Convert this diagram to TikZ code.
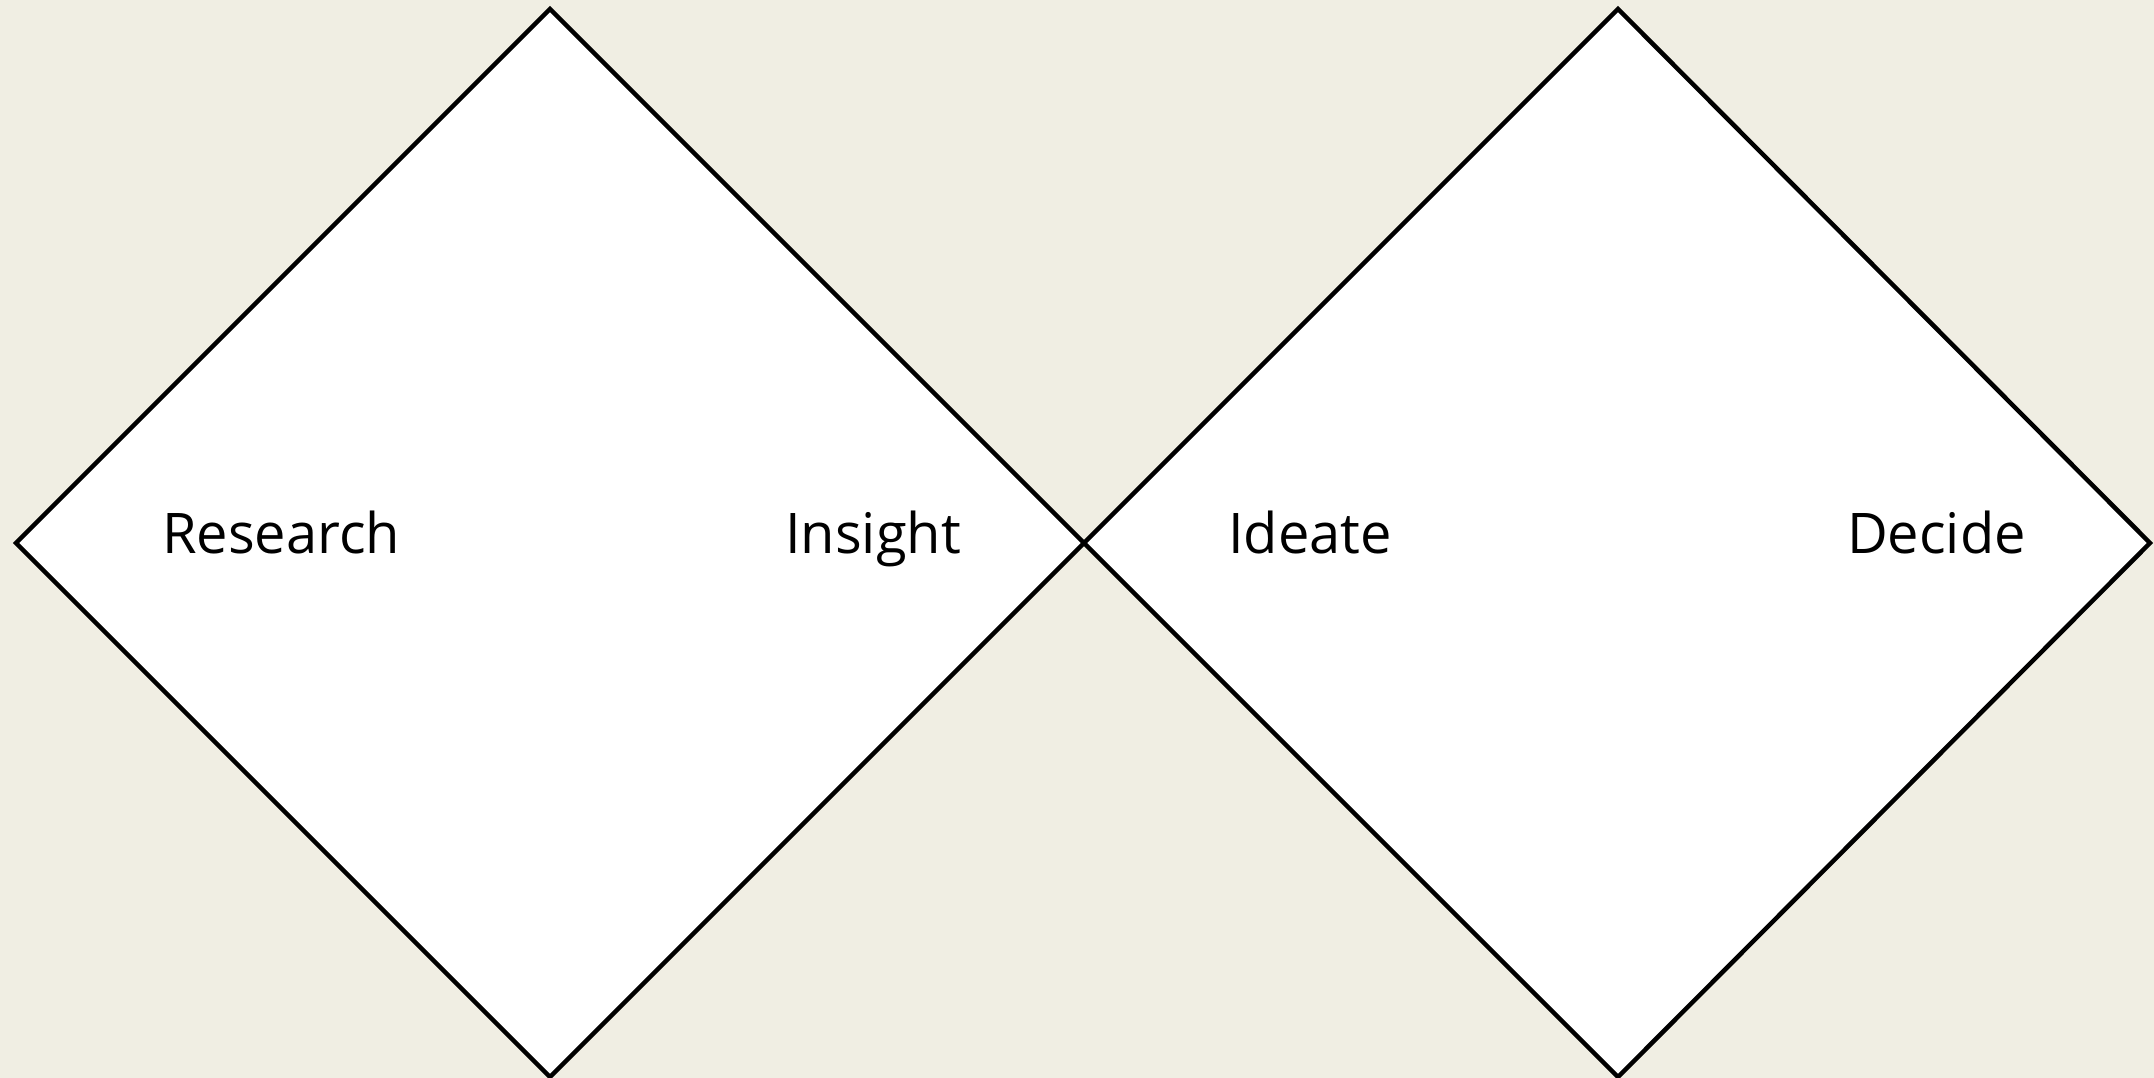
\documentclass[tikz,border=0pt]{standalone}
\usepackage{fontspec}
\setmainfont{Open Sans}
\usetikzlibrary{positioning}
\definecolor{paper}{RGB}{240,238,227}
\tikzset{
  phase/.style = {draw=black, fill=white, line width=4.5pt, line join=miter},
  stage/.style = {font=\fontsize{56}{60}\selectfont, text=black, inner sep=0pt},
}
\begin{document}
\begin{tikzpicture}[x=1pt, y=-1pt]
  \fill[paper] (0,0) rectangle (2154,1078);
  \useasboundingbox (0,0) rectangle (2154,1078);

  % left diamond: discover / define
  \coordinate (ll) at (16,543);
  \coordinate (lt) at (550,9);
  \coordinate (mid) at (1084,543);
  \coordinate (lb) at (550,1077);
  % right diamond: develop / deliver
  \coordinate (rt) at (1618,9);
  \coordinate (rr) at (2150,543);
  \coordinate (rb) at (1618,1077);

  \draw[phase] (ll) -- (lt) -- (mid) -- (lb) -- cycle;
  \draw[phase] (mid) -- (rt) -- (rr) -- (rb) -- cycle;

  \node[stage, anchor=base west] (research) at (162,553) {Research};
  \node[stage, anchor=base east] (insight)  at (961,553) {Insight};
  \node[stage, anchor=base west] (ideate)   at (1228,553) {Ideate};
  \node[stage, anchor=base east] (decide)   at (2026,553) {Decide};
\end{tikzpicture}
\end{document}
